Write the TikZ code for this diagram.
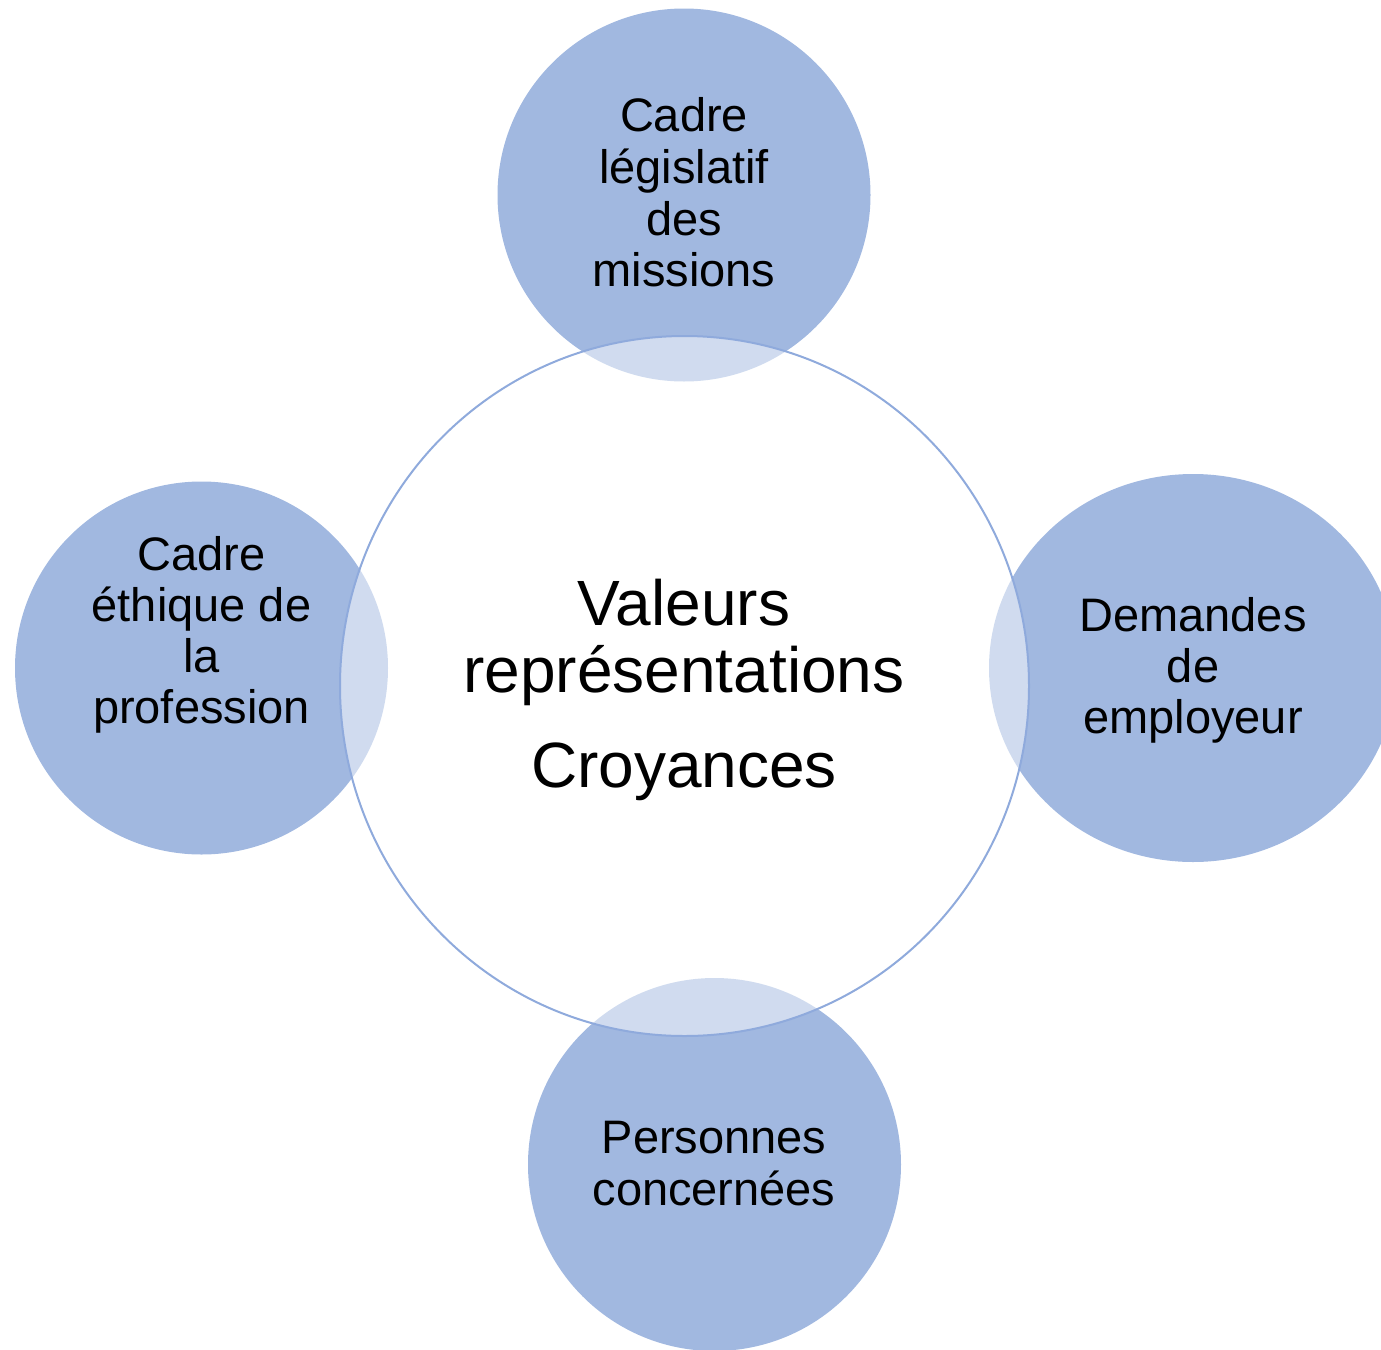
\documentclass[tikz,border=0pt]{standalone}
\usepackage{fontspec}
\setmainfont{Liberation Sans}
\usetikzlibrary{shapes.geometric}
\definecolor{outerfill}{HTML}{A1B8E0}
\definecolor{ringline}{HTML}{8FAADC}
\begin{document}
\begin{tikzpicture}[x=1pt,y=-1pt,
  outer/.style={circle,fill=outerfill,draw=none,inner sep=0pt},
  centre/.style={ellipse,fill=white,fill opacity=0.5,draw=ringline,draw opacity=1,line width=2pt,inner sep=0pt},
  otxt/.style={anchor=base,inner sep=0pt,font=\fontsize{47}{54}\selectfont},
  ctxt/.style={anchor=base,inner sep=0pt,font=\fontsize{64}{74}\selectfont}]
\useasboundingbox (0,0) rectangle (1381,1349);
\clip (0,0) rectangle (1381,1349);
% outer circles
\node[outer,minimum size=373pt] (top) at (684,195) {};
\node[outer,minimum size=373pt] (left) at (201.5,668) {};
\node[outer,ellipse,minimum width=408pt,minimum height=388pt] (right) at (1193,668) {};
\node[outer,minimum size=373pt] (bottom) at (714.5,1164.5) {};
% central circle
\node[centre,minimum width=689pt,minimum height=700pt] (mid) at (684.5,686) {};
% top texts
\node[otxt] (t1) at (684,131.5) {Cadre};
\node[otxt] (t2) at (684,183.5) {législatif};
\node[otxt] (t3) at (684,235) {des};
\node[otxt] (t4) at (684,286.5) {missions};
% left texts
\node[otxt] (l1) at (201.5,570) {Cadre};
\node[otxt] (l2) at (201.5,621.5) {éthique de};
\node[otxt] (l3) at (201.5,672) {la};
\node[otxt] (l4) at (201.5,723) {profession};
% right texts
\node[otxt] (r1) at (1193,631.5) {Demandes};
\node[otxt] (r2) at (1193,682) {de};
\node[otxt] (r3) at (1193,733) {employeur};
% bottom texts
\node[otxt] (b1) at (714,1153) {Personnes};
\node[otxt] (b2) at (714,1205) {concernées};
% centre texts
\node[ctxt] (c1) at (684,625) {Valeurs};
\node[ctxt] (c2) at (684,692) {représentations};
\node[ctxt] (c3) at (684,787) {Croyances};
\end{tikzpicture}
\end{document}
